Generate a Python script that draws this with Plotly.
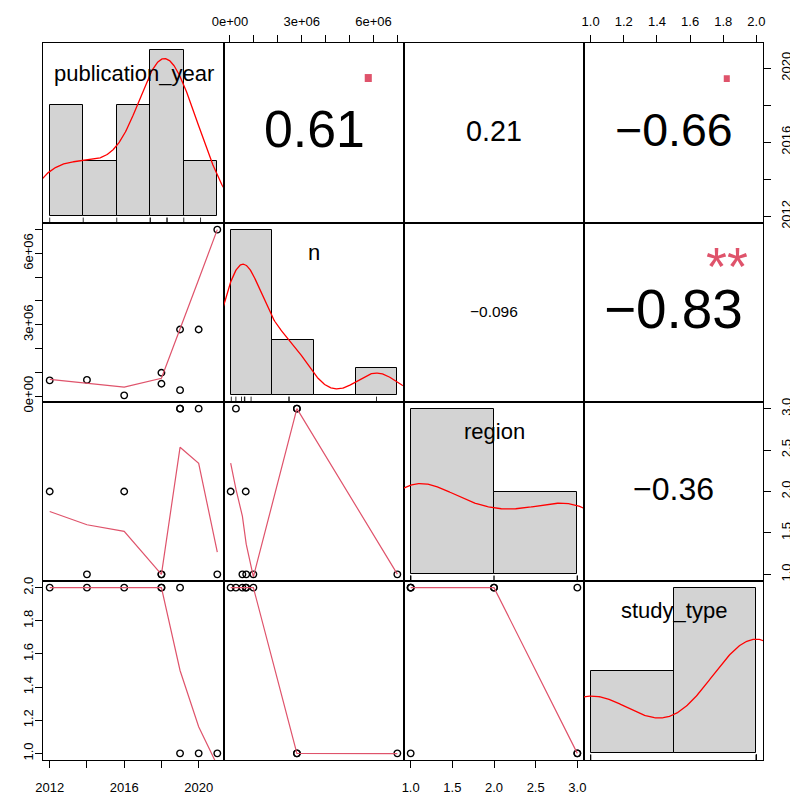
import math
import numpy as np
import plotly.graph_objects as go

# ---------------- data ----------------
var_names = ["publication_year", "n", "region", "study_type"]
publication_year = [2012, 2014, 2016, 2018, 2018, 2019, 2019, 2020, 2021]
n_values = [0.66e6, 0.68e6, 0.03e6, 0.98e6, 0.52e6, 2.8e6, 0.25e6, 2.8e6, 7.0e6]
region = [2, 1, 2, 1, 1, 3, 3, 3, 1]
study_type = [2, 2, 2, 2, 2, 1, 2, 1, 1]

# histogram breaks (R hist, breaks="FD")
year_breaks = [2012, 2014, 2016, 2018, 2020, 2022]
n_breaks = [0, 2e6, 4e6, 6e6, 8e6]
region_breaks = [1, 2, 3]
study_breaks = [1.0, 1.5, 2.0]

# tick values / labels
year_ticks = [2012, 2014, 2016, 2018, 2020]
year_tick_labels = ["2012", "", "2016", "", "2020"]
n_ticks = [0, 1e6, 2e6, 3e6, 4e6, 5e6, 6e6, 7e6]
n_tick_labels = ["0e+00", "", "", "3e+06", "", "", "6e+06", ""]
region_ticks = [1.0, 1.5, 2.0, 2.5, 3.0]
region_tick_labels = ["1.0", "1.5", "2.0", "2.5", "3.0"]
study_ticks = [1.0, 1.2, 1.4, 1.6, 1.8, 2.0]
study_tick_labels = ["1.0", "1.2", "1.4", "1.6", "1.8", "2.0"]

data = [np.array(publication_year, float), np.array(n_values, float),
        np.array(region, float), np.array(study_type, float)]
breaks = [year_breaks, n_breaks, region_breaks, study_breaks]
ticks = [(year_ticks, year_tick_labels), (n_ticks, n_tick_labels),
         (region_ticks, region_tick_labels), (study_ticks, study_tick_labels)]

# ---------------- helpers ----------------
def _lowest(x, y, n, xs, nleft, nright, w, userw, rw):
    rng = x[n - 1] - x[0]
    h = max(xs - x[nleft], x[nright] - xs)
    h9 = 0.999 * h
    h1 = 0.001 * h
    a = 0.0
    j = nleft
    while j < n:
        w[j] = 0.0
        r = abs(x[j] - xs)
        if r <= h9:
            if r <= h1:
                w[j] = 1.0
            else:
                w[j] = (1 - (r / h) ** 3) ** 3
            if userw:
                w[j] *= rw[j]
            a += w[j]
        elif x[j] > xs:
            break
        j += 1
    nrt = j - 1
    if a <= 0:
        return 0.0, False
    for j in range(nleft, nrt + 1):
        w[j] /= a
    if h > 0:
        a = sum(w[j] * x[j] for j in range(nleft, nrt + 1))
        b = xs - a
        c = sum(w[j] * (x[j] - a) ** 2 for j in range(nleft, nrt + 1))
        if math.sqrt(c) > 0.001 * rng:
            b /= c
            for j in range(nleft, nrt + 1):
                w[j] *= (b * (x[j] - a) + 1.0)
    ys = sum(w[j] * y[j] for j in range(nleft, nrt + 1))
    return ys, True


def lowess(x, y, f=2 / 3, nsteps=3):
    o = np.argsort(x, kind="stable")
    x = np.asarray(x, float)[o]
    y = np.asarray(y, float)[o]
    n = len(x)
    delta = 0.01 * (x[-1] - x[0])
    ys = np.zeros(n)
    rw = np.zeros(n)
    res = np.zeros(n)
    ns = max(2, min(n, int(f * n + 1e-7)))
    it = 1
    while it <= nsteps + 1:
        nleft, nright, last, i = 0, ns - 1, -1, 0
        while True:
            if nright < n - 1:
                d1 = x[i] - x[nleft]
                d2 = x[nright + 1] - x[i]
                if d1 > d2:
                    nleft += 1
                    nright += 1
                    continue
            val, ok = _lowest(x, y, n, x[i], nleft, nright, res, it > 1, rw)
            ys[i] = val if ok else y[i]
            if last < i - 1:
                denom = x[i] - x[last]
                for j in range(last + 1, i):
                    alpha = (x[j] - x[last]) / denom
                    ys[j] = alpha * ys[i] + (1 - alpha) * ys[last]
            last = i
            cut = x[last] + delta
            i = last + 1
            while i < n:
                if x[i] > cut:
                    break
                if x[i] == x[last]:
                    ys[i] = ys[last]
                    last = i
                i += 1
            i = max(last + 1, i - 1)
            if last >= n - 1:
                break
        res[:] = y - ys
        sc = np.sum(np.abs(res)) / n
        if it > nsteps:
            break
        rw[:] = np.abs(res)
        m1 = n // 2
        srt = np.sort(rw)
        if n % 2 == 0:
            cmad = 3 * (srt[m1] + srt[n - m1 - 1])
        else:
            cmad = 6 * srt[m1]
        if cmad < 1e-7 * sc:
            break
        c9, c1 = 0.999 * cmad, 0.001 * cmad
        for k in range(n):
            r = abs(res[k])
            if r <= c1:
                rw[k] = 1.0
            elif r <= c9:
                rw[k] = (1 - (r / cmad) ** 2) ** 2
            else:
                rw[k] = 0.0
        it += 1
    return x, ys


def density(x, npts=512):
    x = np.asarray(x, float)
    nn = len(x)
    hi = np.std(x, ddof=1)
    q75, q25 = np.percentile(x, [75, 25])
    lo = min(hi, (q75 - q25) / 1.34)
    if lo == 0:
        lo = hi or abs(x[0]) or 1.0
    bw = 0.9 * lo * nn ** (-0.2)
    gx = np.linspace(x.min() - 3 * bw, x.max() + 3 * bw, npts)
    gy = np.exp(-0.5 * ((gx[:, None] - x[None, :]) / bw) ** 2).sum(axis=1) / (nn * bw * math.sqrt(2 * math.pi))
    return gx, gy


def hist_density(x, br):
    br = np.asarray(br, float)
    idx = np.searchsorted(br, x, side="left") - 1
    idx = np.clip(idx, 0, len(br) - 2)
    counts = np.bincount(idx, minlength=len(br) - 1)
    widths = np.diff(br)
    return counts / (len(x) * widths), widths


def t_pvalue(r, nobs):
    df = nobs - 2
    t = abs(r) * math.sqrt(df / (1 - r * r))
    c = math.gamma((df + 1) / 2) / (math.sqrt(df * math.pi) * math.gamma(df / 2))
    m = 4000
    xs = np.linspace(0, t, m + 1)
    fx = c * (1 + xs ** 2 / df) ** (-(df + 1) / 2)
    integ = (t / m) / 3 * (fx[0] + fx[-1] + 4 * fx[1:-1:2].sum() + 2 * fx[2:-1:2].sum())
    return float(2 * (0.5 - integ))


def fmt2(r):
    s = f"{r:.2g}"
    if abs(r) >= 0.1 and len(s.replace("-", "")) < 4:
        s = f"{r:.2f}"
    return s


def signif(p):
    for cut, sym in [(0.001, "***"), (0.01, "**"), (0.05, "*"), (0.1, ".")]:
        if p <= cut:
            return sym
    return ""


# Arial/Helvetica advance widths (em)
CW = {"0": .556, "1": .556, "2": .556, "3": .556, "4": .556, "5": .556, "6": .556,
      "7": .556, "8": .556, "9": .556, ".": .278, "-": .333}


def str_em(s):
    return sum(CW.get(ch, .556) for ch in s)


# ---------------- layout geometry ----------------
OFF = 8  # page body margin
W, H = 790, 791
xe = [v - OFF for v in (43, 224, 404, 584, 763)]
ye = [v - OFF for v in (43, 223, 402, 581, 760)]
FONT = "Liberation Sans, Arial, Helvetica, sans-serif"
PINK = "#DF536B"


def padded(lo, hi):
    s = hi - lo
    return [lo - 0.04 * s, hi + 0.04 * s]


fig = go.Figure()
layout = dict(width=W, height=H, margin=dict(l=0, r=0, t=0, b=0, autoexpand=False),
              paper_bgcolor="white", plot_bgcolor="white", showlegend=False,
              font=dict(family=FONT, color="black"))
annotations = []

for i in range(4):
    for j in range(4):
        k = i * 4 + j + 1
        xa = "xaxis" if k == 1 else f"xaxis{k}"
        ya = "yaxis" if k == 1 else f"yaxis{k}"
        xr = "x" if k == 1 else f"x{k}"
        yr = "y" if k == 1 else f"y{k}"
        xax = dict(domain=[xe[j] / W, xe[j + 1] / W], anchor=yr, showline=True, mirror=True,
                   linecolor="black", linewidth=1, showgrid=False, zeroline=False,
                   ticks="", showticklabels=False, fixedrange=True, automargin=False)
        yax = dict(domain=[1 - ye[i + 1] / H, 1 - ye[i] / H], anchor=xr, showline=True, mirror=True,
                   linecolor="black", linewidth=1, showgrid=False, zeroline=False,
                   ticks="", showticklabels=False, fixedrange=True, automargin=False)
        if i == j:
            x = data[j]
            dens, widths = hist_density(x, breaks[j])
            br = np.asarray(breaks[j], float)
            M = dens.max()
            xax["range"] = padded(br[0], br[-1])
            yax["range"] = [-0.04 * M, 1.04 * M]
            fig.add_trace(go.Bar(x=br[:-1] + widths / 2, y=dens, width=widths, xaxis=xr, yaxis=yr,
                                 marker=dict(color="#D3D3D3", line=dict(color="black", width=1)),
                                 hoverinfo="skip"))
            gx, gy = density(x)
            fig.add_trace(go.Scatter(x=gx, y=gy, mode="lines", xaxis=xr, yaxis=yr,
                                     line=dict(color="red", width=1.3), hoverinfo="skip"))
            y0 = -0.04 * M
            y1 = y0 + 0.03 * 1.08 * M
            rx, ry = [], []
            for v in x:
                rx += [v, v, None]
                ry += [y0, y1, None]
            fig.add_trace(go.Scatter(x=rx, y=ry, mode="lines", xaxis=xr, yaxis=yr,
                                     line=dict(color="black", width=0.8), hoverinfo="skip"))
            annotations.append(dict(x=0.5, y=0.833, xref=f"{xr} domain", yref=f"{yr} domain",
                                    text=var_names[j], showarrow=False,
                                    font=dict(size=22, family=FONT, color="black"),
                                    xanchor="center", yanchor="middle"))
        else:
            xv, yv = data[j], data[i]
            xax["range"] = padded(xv.min(), xv.max())
            yax["range"] = padded(yv.min(), yv.max())
            if i > j:
                fig.add_trace(go.Scatter(x=xv, y=yv, mode="markers", xaxis=xr, yaxis=yr,
                                         marker=dict(symbol="circle-open", size=6.5, color="black",
                                                     line=dict(width=1.4, color="black")),
                                         hoverinfo="skip"))
                lx, ly = lowess(xv, yv)
                fig.add_trace(go.Scatter(x=lx, y=ly, mode="lines", xaxis=xr, yaxis=yr,
                                         line=dict(color=PINK, width=1.2), hoverinfo="skip"))
            else:
                # invisible trace so the upper panel (and its axes) exists
                fig.add_trace(go.Scatter(x=xv, y=yv, mode="markers", xaxis=xr, yaxis=yr,
                                         marker=dict(size=1, opacity=0), hoverinfo="skip"))
                r = float(np.corrcoef(xv, yv)[0, 1])
                txt = fmt2(r)
                base = 0.8 * 180 / str_em(txt)
                size = base * (abs(r) + 0.3) / 1.3
                annotations.append(dict(x=0.5, y=0.5, xref=f"{xr} domain", yref=f"{yr} domain",
                                        text=txt.replace("-", "\u2212"), showarrow=False,
                                        font=dict(size=round(size, 2), family=FONT, color="black"),
                                        xanchor="center", yanchor="middle", yshift=round(0.07 * size, 2)))
                sym = signif(t_pvalue(r, len(xv)))
                if sym:
                    ssize = base if sym == "." else 0.85 * base
                    ysh = 0.3 * ssize if sym == "." else -0.14 * ssize
                    annotations.append(dict(x=0.8, y=0.8, xref=f"{xr} domain", yref=f"{yr} domain",
                                            text=sym, showarrow=False,
                                            font=dict(size=round(ssize, 2), family=FONT, color=PINK),
                                            xanchor="center", yanchor="middle", yshift=round(ysh, 2)))
        tick_font = dict(size=13, family=FONT, color="black")
        if (i == 3 and j in (0, 2)) or (i == 0 and j in (1, 3)):
            tv, tt = ticks[j]
            xax.update(ticks="outside", ticklen=7, tickwidth=1, tickcolor="black",
                       tickvals=tv, ticktext=tt, showticklabels=True, tickfont=tick_font,
                       side="bottom" if i == 3 else "top",
                       ticklabelstandoff=8 if i == 3 else 4)
        if (j == 0 and i in (1, 3)) or (j == 3 and i in (0, 2)):
            tv, tt = ticks[i]
            yax.update(ticks="outside", ticklen=7, tickwidth=1, tickcolor="black",
                       tickvals=tv, ticktext=tt, showticklabels=True, tickfont=tick_font,
                       side="left" if j == 0 else "right", tickangle=-90,
                       ticklabelstandoff=-3 if j == 0 else 4)
        layout[xa] = xax
        layout[ya] = yax

layout["annotations"] = annotations
layout["bargap"] = 0
fig.update_layout(**layout)
fig.write_html("out.html")
